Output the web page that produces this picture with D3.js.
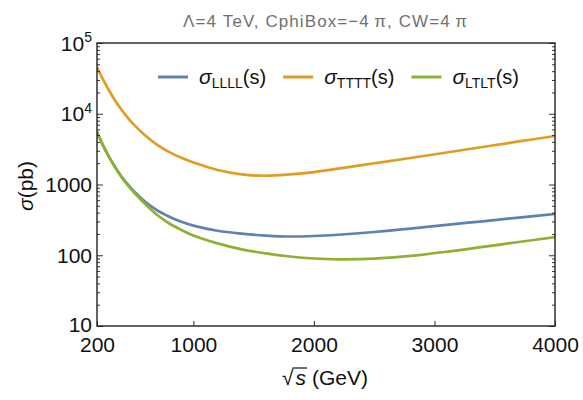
<!DOCTYPE html>
<html>
<head>
<meta charset="utf-8">
<script src="https://cdn.jsdelivr.net/npm/d3@7"></script>
<style>
  body { margin: 0; background: #fff; }
  text { font-family: "Liberation Sans", Arial, sans-serif; }
</style>
</head>
<body>
<div id="chart"></div>
<script>
// sqrt(s) in GeV, cross sections in pb
var sqrtS = [200, 250, 300, 350, 400, 450, 500, 600, 700, 800, 900, 1000, 1200, 1400, 1600, 1800, 2000, 2200, 2500, 2800, 3100, 3400, 3700, 4000];
var sigmaLLLL = [5520, 3580, 2455, 1762, 1318, 1026, 822, 571, 431, 351, 297, 262, 222, 202, 190, 184, 187, 195, 213, 238, 269, 302, 341, 383];
var sigmaTTTT = [45800, 30600, 21300, 15400, 11600, 9020, 7190, 4930, 3640, 2870, 2380, 2050, 1600, 1390, 1330, 1390, 1500, 1680, 1995, 2370, 2830, 3390, 4060, 4850];
var sigmaLTLT = [5520, 3580, 2455, 1750, 1300, 1000, 796, 530, 371, 281, 228, 190, 147, 121, 106, 96, 90, 87.7, 89.5, 98, 112, 131, 154, 180];

var seriesNames = ["LLLL", "TTTT", "LTLT"];
var seriesColors = ["#5E81B5", "#E19C24", "#8FB032"];
var seriesValues = [sigmaLLLL, sigmaTTTT, sigmaLTLT];

var xTicks = [200, 1000, 2000, 3000, 4000];
var yTicks = [10, 100, 1000, 1e4, 1e5];

var svgWidth = 583;
var svgHeight = 400;
var margin = { top: 43, right: 28, bottom: 74, left: 97 };
var width = svgWidth - margin.left - margin.right;
var height = svgHeight - margin.top - margin.bottom;

var svg = d3.select("#chart")
  .append("svg")
  .attr("width", svgWidth)
  .attr("height", svgHeight);

var chartGroup = svg.append("g")
  .attr("transform", `translate(${margin.left}, ${margin.top})`);

var xScale = d3.scaleLinear().domain([200, 4000]).range([0, width]);
var yScale = d3.scaleLog().domain([10, 1e5]).range([height, 0]);

// minor ticks on the log axis
var minorTicks = [];
yTicks.slice(0, -1).forEach(function(d) {
  for (var k = 2; k <= 9; k++) minorTicks.push(d * k);
});

// title
svg.append("text")
  .attr("x", 325)
  .attr("y", 27)
  .attr("text-anchor", "middle")
  .attr("fill", "#707070")
  .attr("font-size", "17px")
  .attr("textLength", 284)
  .attr("lengthAdjust", "spacing")
  .text("Λ=4 TeV, CphiBox=−4\u2009π, CW=4\u2009π");

// clip for curves
svg.append("defs").append("clipPath").attr("id", "clip")
  .append("rect").attr("width", width).attr("height", height);

// curves
var line = d3.line()
  .x(d => xScale(d[0]))
  .y(d => yScale(d[1]))
  .curve(d3.curveCatmullRom.alpha(0.5));

seriesValues.forEach(function(vals, i) {
  chartGroup.append("path")
    .datum(sqrtS.map((s, j) => [s, vals[j]]))
    .attr("clip-path", "url(#clip)")
    .attr("fill", "none")
    .attr("stroke", seriesColors[i])
    .attr("stroke-width", 2.7)
    .attr("d", line);
});

// axes (ticks point inward)
var bottomAxis = d3.axisBottom(xScale).tickValues(xTicks).tickSizeInner(-5).tickSizeOuter(0).tickPadding(11).tickFormat(d3.format("d"));
var gx = chartGroup.append("g").attr("transform", `translate(0, ${height})`).call(bottomAxis);

chartGroup.append("g").call(d3.axisLeft(yScale).tickValues(yTicks).tickSizeInner(-6).tickSizeOuter(0).tickFormat(""));
chartGroup.append("g").call(d3.axisLeft(yScale).tickValues(minorTicks).tickSizeInner(-3).tickSizeOuter(0).tickFormat(""));

chartGroup.append("g").attr("transform", `translate(${width}, 0)`)
  .call(d3.axisRight(yScale).tickValues(yTicks).tickSizeInner(-6).tickSizeOuter(0).tickFormat(""));
chartGroup.append("g").attr("transform", `translate(${width}, 0)`)
  .call(d3.axisRight(yScale).tickValues(minorTicks).tickSizeInner(-3).tickSizeOuter(0).tickFormat(""));

chartGroup.selectAll(".domain").remove();
chartGroup.selectAll(".tick line").attr("stroke", "#333").attr("stroke-width", 1);
gx.selectAll("text").attr("font-size", "21px").attr("fill", "#111").attr("font-family", "Liberation Sans, Arial, sans-serif");

// y tick labels with superscripts
yTicks.forEach(function(v) {
  var e = Math.round(Math.log10(v));
  var t = chartGroup.append("text")
    .attr("x", -5)
    .attr("y", yScale(v))
    .attr("dy", v === 10 ? "0.28em" : "0.36em")
    .attr("text-anchor", "end")
    .attr("font-size", "21px")
    .attr("fill", "#111");
  if (e >= 4) {
    t.append("tspan").text("10");
    t.append("tspan").attr("font-size", "14px").attr("dy", "-0.6em").text(e);
  } else {
    t.text(String(v));
  }
});

// frame
chartGroup.append("rect")
  .attr("width", width)
  .attr("height", height)
  .attr("fill", "none")
  .attr("stroke", "#222")
  .attr("stroke-width", 1.4);

// legend
var lx = 158;
seriesNames.forEach(function(name, i) {
  chartGroup.append("line")
    .attr("x1", lx - margin.left).attr("x2", lx - margin.left + 30)
    .attr("y1", 77 - margin.top).attr("y2", 77 - margin.top)
    .attr("stroke", seriesColors[i]).attr("stroke-width", 3);
  var t = chartGroup.append("text")
    .attr("x", lx - margin.left + 41)
    .attr("y", 84 - margin.top)
    .attr("font-size", "20px")
    .attr("fill", "#111");
  t.append("tspan").attr("font-style", "italic").attr("font-size", "21px").text("σ");
  t.append("tspan").attr("font-size", "14px").attr("dy", 4).text(name);
  t.append("tspan").attr("dy", -4).text("(s)");
  lx = lx + 41 + t.node().getComputedTextLength() + 17;
});

// y axis title
svg.append("text")
  .attr("transform", "translate(33, 186) rotate(-90)")
  .attr("text-anchor", "middle")
  .attr("font-size", "21px")
  .attr("fill", "#111")
  .html('<tspan font-style="italic">σ</tspan>(pb)');

// x axis title: sqrt(s) (GeV)
var xt = svg.append("text")
  .attr("x", 325)
  .attr("y", 385)
  .attr("text-anchor", "middle")
  .attr("font-size", "21px")
  .attr("fill", "#111");
xt.append("tspan").text("√");
xt.append("tspan").attr("font-style", "italic").attr("dx", 2).text("s");
xt.append("tspan").text(" (GeV)");
var sBox = xt.node().getExtentOfChar(1);
var rBox = xt.node().getExtentOfChar(0);
svg.append("line")
  .attr("x1", rBox.x + rBox.width - 1).attr("x2", sBox.x + sBox.width + 1)
  .attr("y1", rBox.y + 2).attr("y2", rBox.y + 2)
  .attr("stroke", "#111").attr("stroke-width", 1.2);
</script>
</body>
</html>
